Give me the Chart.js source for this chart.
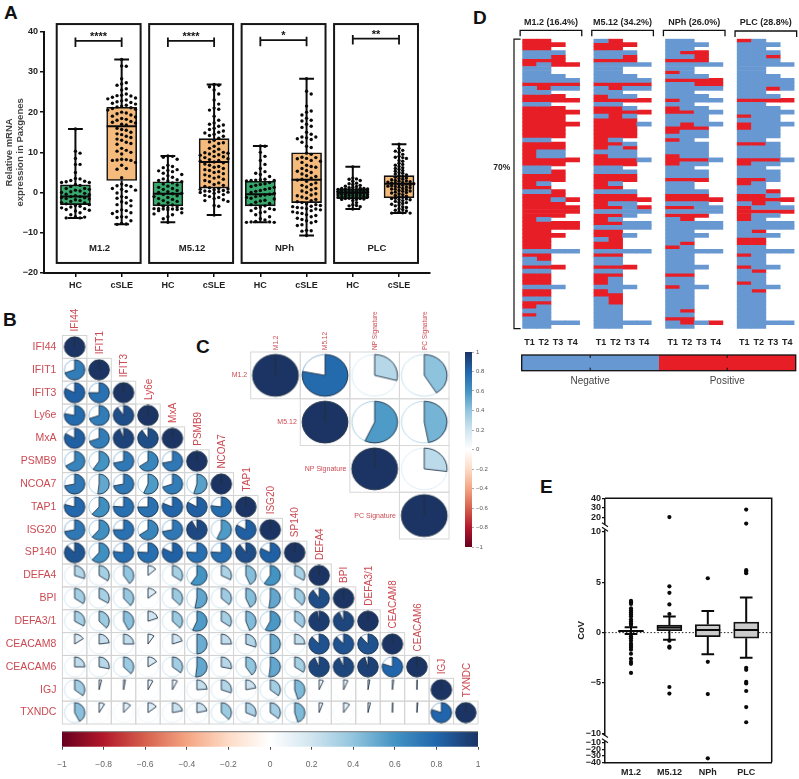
<!DOCTYPE html>
<html><head><meta charset="utf-8">
<style>html,body{margin:0;padding:0;background:#fff;width:799px;height:779px;overflow:hidden}
canvas{position:absolute}
.letter{position:absolute;font:bold 19px/19px 'Liberation Sans',Arial,sans-serif;color:#111}</style>
<script src="https://cdn.jsdelivr.net/npm/chart.js@4"></script>
</head><body>
<div class="letter" style="left:4px;top:3px">A</div>
<div class="letter" style="left:3px;top:310px">B</div>
<div class="letter" style="left:196px;top:337px">C</div>
<div class="letter" style="left:473px;top:8px">D</div>
<div class="letter" style="left:540px;top:477px">E</div>
<script>
// ---------- Panel A data ----------
const aGroups = ['HC','cSLE','HC','cSLE','HC','cSLE','HC','cSLE'];
const aModules = ['M1.2','M5.12','NPh','PLC'];
const aStars = ['****','****','*','**'];
const aQ1  = [-3.0, 3.0,-3.3, 1.1,-3.3,-2.5,-1.5,-1.3];
const aMed = [-1.0,16.5,-0.3, 7.6,-0.4, 3.2, 0.0, 2.2];
const aQ3  = [ 1.9,21.2, 2.7,13.4, 2.8, 9.9, 0.9, 4.2];
const aLo  = [-6.3,-7.9,-7.4,-5.6,-7.4,-10.7,-4.1,-5.1];
const aHi  = [15.8,33.1, 9.1,26.9,11.6,28.3, 6.4,12.0];
const m12Hc = [15.8,10.3,9.8,8.5,7,7,5,3.5,3.4,3,2.8,2.7,2.5,2.5,2,1.8,1.5,1,1,.8,.6,.4,.2,0,-.2,-.4,-.5,-.8,-1,-1,-1.2,-1.3,-1.5,-1.6,-1.8,-2,-2.2,-2.5,-2.6,-2.8,-3,-3.2,-3.4,-3.6,-3.8,-4,-4.2,-4.4,-4.6,-5,-5.5,-6,-6.3,-6.3,-6.1];
const m12Sle = [33.1,31.5,31.4,28.3,27.3,27,26.7,25.8,25.5,24.5,24.2,24.1,24,23.7,23.5,23.3,23,22.8,22.6,22.4,22.2,22,21.7,21.5,21.3,21.1,20.9,20.7,20.5,20,19.8,19.6,19.3,19,18.8,18.4,18.2,18,17.7,17.5,17.3,17,16.8,16,15.7,15.5,15,14.6,14.4,14,13.7,13.3,13,12.5,12.2,12,11,10.5,10.3,10,9.6,8.3,8.2,8.1,8,8,7.5,6.8,6,5.8,3.7,2.1,1.8,1.7,1.5,1,.8,.6,.3,-.1,-1,-1.2,-1.4,-2,-2.3,-2.6,-3,-3.3,-4.3,-4.5,-4.7,-5,-5.2,-6,-6.1,-6.2,-7,-7.6,-7.8,-7.9];
const m512Hc = [9.1,9,8.8,8.3,6.8,6.5,6.2,5.7,5.5,5.4,5.2,4.8,4.5,4.2,3.8,3.4,3.2,3,2.9,2.7,2.4,2.1,1.9,1.6,1.3,1,.8,.5,.2,0,-.2,-.3,-.5,-.8,-1,-1.2,-1.5,-1.7,-2,-2.2,-2.5,-2.8,-3.1,-3.4,-3.6,-3.8,-4,-4,-4,-4.1,-4.1,-4.2,-4.3,-4.5,-5,-5.3,-5.5,-6,-6.5,-7.4];
const m512Sle = [26.9,26.7,26.3,25.5,24.5,23,22,21,20.7,20.5,19,18,17.3,17,16.8,16.5,16,15.7,15.3,15,14.8,14.5,14.2,14,13.5,13,12.6,12.4,12.2,11.5,11,10.8,10.2,10,9.9,9.8,9.6,9.4,9.3,9,8.9,8.7,8.4,8.2,8,7.8,7.6,7.4,7.1,6.8,6.5,6.3,6,5.7,5.5,5.2,5,4.7,4.4,4.1,3.9,3.6,3.3,3,2.7,2.4,2,1.8,1.5,1.2,1,.9,.8,.7,.5,.4,.3,.2,.1,0,-.2,-.5,-.7,-1,-1.2,-1.5,-1.8,-2,-2.2,-3.2,-3.4,-5.6];
const nphHc = [11.6,11.5,10,9,8,7,6,5.2,4.8,4.5,4,3.3,3.2,3.1,3,3,2.9,2.5,2.2,2,1.8,1.5,1.3,1,.8,.5,.3,0,-.2,-.4,-.6,-.8,-1,-1.2,-1.4,-1.6,-1.9,-2.1,-2.4,-2.7,-3,-3.3,-3.6,-3.9,-4,-4.2,-4.5,-4.8,-5,-5.5,-6,-6.5,-6.8,-7.2,-7.3,-7.4,-7.4,-7.3];
const nphSle = [28.3,25.2,24.5,21.5,20.3,20,19.3,18.5,18,17.8,17,16.5,16.2,15,14.5,13.8,13.8,13.6,13.4,13.2,12.5,11.5,11.2,9.8,9.5,8.8,8.7,8.5,8.4,8,7.8,7.5,6.8,6.5,6.3,6,5.5,5.3,5,4.6,4.2,4,3.6,3.3,3.1,2.8,2.4,2,1.8,1.4,1,.7,.4,0,-.3,-.6,-.8,-1.1,-1.4,-1.7,-2,-2.3,-2.5,-2.8,-3,-3.2,-3.4,-3.5,-3.7,-3.8,-4,-4.1,-4.3,-4.5,-4.8,-5,-5.2,-5.5,-5.7,-6,-6.4,-6.7,-7,-7.2,-7.5,-8,-8.2,-9.4,-9.5,-9.6,-10.7];
const plcHc = [6.4,3.6,3.4,3.3,3,2.8,2.3,2.2,2,1.8,1.6,1.5,1.3,1.2,1.1,1,1,.9,.9,.8,.8,.7,.7,.6,.5,.5,.4,.4,.3,.3,.2,.2,.1,.1,0,0,0,-.1,-.1,-.2,-.2,-.3,-.3,-.4,-.4,-.5,-.5,-.6,-.7,-.7,-.8,-.9,-.9,-1,-1,-1.1,-1.2,-1.3,-1.4,-1.5,-1.5,-1.6,-1.7,-1.7,-2,-2.5,-3,-3.2,-3.3,-3.5,-4.1];
const plcSle = [12,11,10.5,10.3,10,9.5,9,8.8,8.7,8.5,8,7.8,7.3,7,6.8,6.5,6.2,6,5.8,5.5,5.3,5,4.8,4.6,4.4,4.2,4,3.8,3.6,3.5,3.3,3.2,3,2.9,2.8,2.7,2.6,2.5,2.4,2.3,2.2,2.1,2,1.9,1.8,1.7,1.6,1.5,1.4,1.3,1.2,1,.9,.8,.7,.5,.4,.3,.1,0,-.1,-.3,-.5,-.7,-.9,-1,-1.2,-1.4,-1.5,-1.6,-1.7,-1.8,-2,-2.2,-2.4,-2.5,-2.7,-2.9,-3.1,-3.3,-3.5,-3.7,-4,-4.2,-4.4,-4.6,-4.8,-5,-5.1,-5.1];
const aPoints = [m12Hc,m12Sle,m512Hc,m512Sle,nphHc,nphSle,plcHc,plcSle];

// ---------- Panel B data ----------
const bGenes = ['IFI44','IFIT1','IFIT3','Ly6e','MxA','PSMB9','NCOA7','TAP1','ISG20','SP140','DEFA4','BPI','DEFA3/1','CEACAM8','CEACAM6','IGJ','TXNDC'];
const bIFI44   = [1];
const bIFIT1   = [.7,1];
const bIFIT3   = [.82,.75,1];
const bLy6e    = [.78,.7,.9,1];
const bMxA     = [.83,.7,.94,.9,1];
const bPSMB9   = [.67,.6,.72,.66,.72,1];
const bNCOA7   = [.72,.52,.72,.57,.7,.55,1];
const bTAP1    = [.79,.62,.76,.75,.81,.83,.77,1];
const bISG20   = [.72,.62,.75,.66,.72,.92,.57,.83,1];
const bSP140   = [.87,.62,.77,.76,.82,.76,.76,.9,.82,1];
const bDEFA4   = [.3,.34,.4,.14,.34,.6,.32,.43,.6,.33,1];
const bBPI     = [.34,.33,.38,.15,.37,.53,.36,.43,.52,.37,.9,1];
const bDEFA31  = [.33,.37,.42,.2,.37,.57,.34,.44,.58,.36,.97,.93,1];
const bCEACAM8 = [.16,.23,.25,.1,.2,.5,.25,.3,.5,.25,.88,.88,.88,1];
const bCEACAM6 = [.25,.28,.37,.16,.35,.52,.28,.4,.52,.34,.93,.93,.95,.8,1];
const bIGJ     = [.35,.04,.03,.08,.08,.24,.3,.22,.35,.45,.07,.07,.03,.02,.005,1];
const bTXNDC   = [.42,.09,.12,.15,.22,.22,.37,.31,.35,.45,.06,.1,.04,.01,.015,.8,1];
const bRows = [bIFI44,bIFIT1,bIFIT3,bLy6e,bMxA,bPSMB9,bNCOA7,bTAP1,bISG20,bSP140,bDEFA4,bBPI,bDEFA31,bCEACAM8,bCEACAM6,bIGJ,bTXNDC];

// ---------- Panel C data ----------
const cLabelsTop = ['M1.2','M5.12','NP Signature','PC Signature'];
const cM12 = [1,.78,.29,.41];
const cM512 = [1,.57,.47];
const cNP = [1,.27];
const cPC = [1];
const cRows = [cM12,cM512,cNP,cPC];
const barTicks = [-1,-.8,-.6,-.4,-.2,0,.2,.4,.6,.8,1];

// ---------- Panel D data (R positive, B negative, - no sample) ----------
const dTitles = ['M1.2 (16.4%)','M5.12 (34.2%)','NPh (26.0%)','PLC (28.8%)'];
const dTimes = ['T1','T2','T3','T4'];
const dLegend = ['Negative','Positive'];
const dM12 = ['RR--','RRR-','RR--','BBB-','BBR-','RRR-','RBRR','BB--','BB--','BBB-','BBBB','RRRR','BRBB','BB--','RRR-','RRRR','BB--','RRR-','RRRR','RRR-','RRR-','RRRR','RRR-','RRR-','RRR-','BB--','RRR-','RRR-','RBB-','RBB-','RRRR','RRR-','BB--','BBR-','RRR-','RRR-','RB--','RR--','BBR-','RRR-','RRBR','RRR-','RRRR','RRRR','RRR-','RB--','RRRR','RRRR','RR--','RRR-','RR--','RR--','RR--','BBBB','RR--','BR--','BB--','RRR-','BB--','RR--','RR--','RR--','BBB-','RR--','RR--','BB--','RR--','RB--','BB--','RB--','BB--','BBBB','BB--'];
const dM512 = ['BR--','RRR-','RR--','BBB-','BBR-','RRR-','BBBB','BB--','BB--','BBB-','BBBB','RRRR','BRBB','BB--','RBB-','RRRR','BB--','RRB-','RRRR','BRB-','RRR-','RRRB','RRR-','RRR-','RRR-','RB--','RRB-','RBR-','BBB-','RBB-','RRRB','RRR-','BB--','BBB-','RRR-','RRR-','RB--','RR--','BBB-','RRR-','RRRR','RBB-','RRBR','BBBB','RRB-','RB--','RRBB','BBBB','RR--','RRB-','BR--','RR--','RR--','BBBB','RR--','BB--','BB--','RRR-','BB--','RR--','RB--','RB--','BBB-','RB--','RR--','BR--','BR--','BB--','BB--','BB--','BB--','BBBB','BB--'];
const dNPh = ['BB--','BBB-','BB--','BRR-','BBR-','RRR-','BBBB','BB--','RB--','BBB-','RRRR','BBRR','BBBB','BB--','BBB-','RBBB','BB--','RBB-','RRBB','BBB-','BBB-','BRBB','RRR-','RBB-','BBB-','RB--','BBB-','BBB-','BBB-','RBB-','RRRB','RBB-','BB--','BBB-','BBB-','RRR-','BB--','BB--','BBB-','RRR-','RRRR','BBB-','RRBB','BBBB','RRR-','BR--','BBBB','BBBB','BB--','BBB-','BB--','BR--','RB--','BBBB','BB--','BB--','BB--','BBB-','BB--','RR--','BB--','BB--','RBB-','BB--','BB--','BB--','BB--','BB--','BR--','BB--','RR--','BRBR','BB--'];
const dPLC = ['RB--','BBB-','BB--','BBB-','BBR-','BBB-','BBBB','BB--','BB--','BBB-','BBBB','BBBB','BBRB','BB--','BBB-','RRRR','BB--','BBB-','BBBB','RBB-','BBB-','RBBB','RBB-','BBB-','BBB-','BB--','RRB-','BBB-','BBB-','BBB-','RRRB','RBB-','BB--','BBB-','BBB-','RRB-','RB--','BB--','BBR-','RRB-','RRRR','BRB-','RBBB','RRRR','RBB-','RB--','BBBB','BBBB','BR--','BBB-','RR--','RR--','BB--','BBBB','RB--','BB--','BB--','RBB-','BR--','BB--','BB--','RB--','BBB-','BR--','BB--','BB--','BB--','BB--','BB--','BB--','BB--','BBBB','BB--'];
const dBlocks = [dM12,dM512,dNPh,dPLC];

// ---------- Panel E data ----------
const eGroups = ['M1.2','M5.12','NPh','PLC'];
const eQ1  = [0.06,0.2,-0.4,-0.55];
const eMed = [0.15,0.5,0.25,0.25];
const eQ3  = [0.2,0.75,0.8,1.05];
const eLo  = [-0.13,-0.7,-2.15,-2.5];
const eHi  = [0.53,1.6,2.15,3.5];
const eOutM12 = [3.15,3,2.85,2.4,2.2,2,1.8,1.6,1.3,1.1,.9,.75,-.35,-.55,-.8,-1.1,-1.3,-1.5,-1.7,-2.1,-2.6,-2.9,-3.1,-4];
const eOutM512 = [20.6,4.6,3.95,2.8,1.85,-.8,-1.4,-1.5,-5.4,-6.05];
const eOutNPh = [5.4,-2.9,-6.1,-34];
const eOutPLC = [28.3,13.8,6.2,6.05,5.9,-3.5,-3.7,-4.9,-5.05,-5.8,-7.4,-8.9];
const eOutliers = [eOutM12,eOutM512,eOutNPh,eOutPLC];
const eTickValues = [40,30,20,10,5,0,-5,-10,-10,-20,-30,-40];
const eTickBranch = ['top','top','top','mid','mid','mid','mid','mid','low','low','low','low'];

// ---------- helpers ----------
const FF = "'Liberation Sans',Arial,sans-serif";
const RED_TXT = '#cc4a52';
const rampStops = [[-1,'#67001f'],[-.8,'#b2182b'],[-.6,'#d6604d'],[-.4,'#f4a582'],[-.2,'#fddbc7'],[0,'#ffffff'],[.2,'#d1e5f0'],[.4,'#92c5de'],[.6,'#4393c3'],[.8,'#2166ac'],[1,'#1b3464']];
const hex = h=>[1,3,5].map(i=>parseInt(h.substr(i,2),16));
function rampColor(v){
  for(let i=0;i<rampStops.length-1;i++){
    const [a,ca]=rampStops[i],[b,cb]=rampStops[i+1];
    if(v<=b){const t=(v-a)/(b-a),A=hex(ca),B=hex(cb);
      return 'rgb('+A.map((q,k)=>Math.round(q+(B[k]-q)*t)).join(',')+')';}
  }
  return rampStops[rampStops.length-1][1];
}
function makeCanvas(r){
  const c=document.createElement('canvas');c.width=r.w;c.height=r.h;
  c.style.left=r.x+'px';c.style.top=r.y+'px';c.style.width=r.w+'px';c.style.height=r.h+'px';
  document.body.appendChild(c);return c.getContext('2d');
}
function pad(r,p,W,H,rightW){return {left:p.l-r.x-W,top:p.t-r.y,right:r.x+r.w-p.r-(rightW||0),bottom:r.y+r.h-p.b-H};}
function fix(size){return s=>{if(s.isHorizontal())s.height=size;else s.width=size;s.paddingLeft=s.paddingRight=s.paddingTop=s.paddingBottom=0;};}
function setTicks(vals){return s=>{s.ticks=vals.map(v=>({value:v}));};}
function text(ctx,str,x,y,font,color,align,rot){
  ctx.save();ctx.font=font;ctx.fillStyle=color;ctx.textAlign=align||'center';ctx.textBaseline='middle';
  ctx.translate(x,y);if(rot)ctx.rotate(rot);ctx.fillText(str,0,0);ctx.restore();
}
function poly(ctx,pts,color,w){
  ctx.save();ctx.strokeStyle=color;ctx.lineWidth=w;ctx.lineCap='butt';ctx.lineJoin='miter';ctx.setLineDash([]);ctx.beginPath();
  pts.forEach((p,i)=>i?ctx.lineTo(p[0],p[1]):ctx.moveTo(p[0],p[1]));ctx.stroke();ctx.restore();
}
const base=(layoutPad)=>({responsive:false,animation:false,events:[],layout:{padding:layoutPad},plugins:{legend:{display:false},tooltip:{enabled:false}}});
const gap={x:NaN,y:NaN};
function swarm(vals,cx,step,maxCol,dy){
  const sorted=[...vals].sort((a,b)=>b-a),last={},out=[];
  const order=[0];for(let i=1;i<=maxCol;i++)order.push(i,-i);
  sorted.forEach(v=>{
    let pick=null,best=-1;
    for(const c of order){
      const d=last[c]===undefined?1e9:last[c]-v;
      if(d>=dy){pick=c;break;}
      if(d>best){best=d;pick=c;}
    }
    last[pick]=v;out.push({x:cx+pick*step,y:v});
  });
  return out;
}
function boxLines(lo,q1,q3,hi,cap,med,medW){
  const out=[];
  lo.forEach((l,i)=>{
    const h=hi[i];
    out.push({x:i,y:l},{x:i,y:q1[i]},gap,{x:i,y:q3[i]},{x:i,y:h},gap,{x:i-cap,y:h},{x:i+cap,y:h},gap,{x:i-cap,y:l},{x:i+cap,y:l},gap,{x:i-medW,y:med[i]},{x:i+medW,y:med[i]},gap);
  });
  return out;
}

// ---------- Panel A ----------
(function(){
  const r={x:0,y:20,w:440,h:280},p={l:44,t:31.7,r:430,b:273};
  const pts=[];aPoints.forEach((vals,i)=>{
    const dense=i>=6;
    pts.push(...swarm(vals,i,dense?.08:.1,dense?4:3,dense?.7:1.25));
  });
  new Chart(makeCanvas(r),{type:'bar',data:{datasets:[
    {type:'scatter',data:pts,backgroundColor:'#0a0a0a',borderWidth:0,pointRadius:1.7,order:1},
    {type:'scatter',showLine:true,data:boxLines(aLo,aQ1,aQ3,aHi,.16,aMed,.325),borderColor:'#0a0a0a',borderWidth:2,pointRadius:0,order:2,clip:false},
    {type:'bar',data:aQ1.map((q,i)=>({x:i,y:[q,aQ3[i]]})),backgroundColor:aQ1.map((q,i)=>i%2?'#f4bb7c':'#38a96d'),borderColor:'#111',borderWidth:1.6,barThickness:30,borderSkipped:false,order:3}
  ]},options:Object.assign(base(pad(r,p,44,27)),{scales:{
    x:{type:'linear',min:-0.68,max:7.67,offset:false,afterFit:fix(27),afterBuildTicks:setTicks(aGroups.map((g,i)=>i)),
       grid:{offset:false,drawOnChartArea:false,color:'#111',lineWidth:1.5,tickLength:4},border:{color:'#111',width:2},
       ticks:{autoSkip:false,maxRotation:0,padding:3,color:'#222',font:{family:FF,size:9,weight:'bold'},callback:(v,i)=>aGroups[i]}},
    y:{type:'linear',min:-20,max:40,afterFit:fix(44),
       grid:{drawOnChartArea:false,color:'#111',lineWidth:1.5,tickLength:4},border:{color:'#111',width:2},
       title:{display:true,text:['Relative mRNA','expression in Paxgenes'],color:'#444',padding:{top:4,bottom:0},font:{family:FF,size:9.5,weight:'bold',lineHeight:1.15}},
       ticks:{stepSize:10,padding:2,color:'#222',font:{family:FF,size:9,weight:'bold'},callback:v=>String(v).replace('-','\u2212')}}
  }}),plugins:[{id:'aOverlay',afterDatasetsDraw(ch){
    const c=ch.ctx,X=ch.scales.x,Y=ch.scales.y;
    const braceY=[37.7,37.7,37.9,38.3];
    aModules.forEach((m,k)=>{
      const i=k*2;
      const x0=X.getPixelForValue(i-.405),x1=X.getPixelForValue(i+1.41);
      const yt=Y.getPixelForValue(41.9),yb=Y.getPixelForValue(-17.5);
      c.save();c.strokeStyle='#161616';c.lineWidth=2;c.strokeRect(x0,yt,x1-x0,yb-yt);c.restore();
      const by=Y.getPixelForValue(braceY[k]),bl=X.getPixelForValue(i),br=X.getPixelForValue(i+1);
      poly(c,[[bl,by-3.5],[bl,by+6],[bl,by],[br,by],[br,by+6],[br,by-3.5]],'#111',1.8);
      text(c,aStars[k],(bl+br)/2,by-4,'bold 11px '+FF,'#111');
      text(c,m,(bl+br)/2+1,Y.getPixelForValue(-13.8),'bold 9.5px '+FF,'#222');
    });
  }}]});
})();

// ---------- Pie matrix helper ----------
function pieImage(v,w,h,rx,ry,lw){
  const cv=document.createElement('canvas');cv.width=w;cv.height=h;
  const g=cv.getContext('2d'),cx=w/2,cy=h/2,col=rampColor(v);
  g.beginPath();g.ellipse(cx,cy,rx,ry,0,0,Math.PI*2);g.strokeStyle=col;g.globalAlpha=.55;g.lineWidth=lw;g.stroke();g.globalAlpha=1;
  g.beginPath();g.moveTo(cx,cy);g.ellipse(cx,cy,rx,ry,0,-Math.PI/2,-Math.PI/2+Math.PI*2*v);g.closePath();
  g.fillStyle=col;g.fill();g.strokeStyle='#1f3145';g.lineWidth=lw;g.stroke();
  return cv;
}

// ---------- Panel B ----------
(function(){
  const r={x:0,y:300,w:500,h:440},p={l:62.4,t:335.5,r:478,b:724};
  const pts=[],imgs=[];
  bRows.forEach((row,ri)=>row.forEach((v,ci)=>{pts.push({x:ci+.5,y:ri+.5});imgs.push(pieImage(v,24,22,10.2,10,.9));}));
  new Chart(makeCanvas(r),{type:'scatter',data:{datasets:[{data:pts,pointStyle:imgs,pointRadius:10,clip:false}]},
    options:Object.assign(base(pad(r,p,62.4,0)),{scales:{
      x:{type:'linear',min:0,max:17,display:false},
      y:{type:'linear',min:0,max:17,reverse:true,afterFit:fix(62.4),afterBuildTicks:setTicks(bGenes.map((g,i)=>i+.5)),
         grid:{display:false,drawTicks:false},border:{display:false},
         ticks:{autoSkip:false,padding:6,color:RED_TXT,font:{family:FF,size:10.5},callback:(v,i)=>bGenes[i]}}
    }}),plugins:[{id:'bGrid',beforeDatasetsDraw(ch){
      const c=ch.ctx,X=ch.scales.x,Y=ch.scales.y;
      c.save();c.strokeStyle='#d4d4d4';c.lineWidth=1;
      bRows.forEach((row,ri)=>row.forEach((v,ci)=>{
        const a=X.getPixelForValue(ci),b=X.getPixelForValue(ci+1),t=Y.getPixelForValue(ri),d=Y.getPixelForValue(ri+1);
        c.strokeRect(a,t,b-a,d-t);}));
      c.restore();
    },afterDatasetsDraw(ch){
      const c=ch.ctx,X=ch.scales.x,Y=ch.scales.y;
      bGenes.forEach((g,i)=>text(c,g,X.getPixelForValue(i+.5)+1,Y.getPixelForValue(i)-4,'10px '+FF,RED_TXT,'left',-Math.PI/2));
    }}]});
})();

// ---------- Colour bar helper ----------
function gradFill(horizontal){
  return ctx=>{
    const a=ctx.chart.chartArea;if(!a)return '#888';
    const g=horizontal?ctx.chart.ctx.createLinearGradient(a.left,0,a.right,0):ctx.chart.ctx.createLinearGradient(0,a.bottom,0,a.top);
    rampStops.forEach(([v,col])=>g.addColorStop((v+1)/2,col));return g;
  };
}
const minusLabel=v=>String(v).replace('-','\u2212');

// B colour bar
(function(){
  const r={x:40,y:725,w:460,h:50},p={l:62,t:731.7,r:478,b:746.7};
  new Chart(makeCanvas(r),{type:'bar',data:{datasets:[{data:[{y:0,x:[-1,1]}],backgroundColor:gradFill(true),borderWidth:0,barThickness:15}]},
    options:Object.assign(base(pad(r,p,0,25)),{indexAxis:'y',scales:{
      x:{type:'linear',min:-1,max:1,afterFit:fix(25),afterBuildTicks:setTicks(barTicks),
         grid:{drawOnChartArea:false,color:'#444',lineWidth:1,tickLength:3},border:{display:false},
         ticks:{autoSkip:false,maxRotation:0,padding:10,color:'#666',font:{family:FF,size:8.5},callback:(v,i)=>minusLabel(barTicks[i])}},
      y:{type:'linear',min:-.5,max:.5,display:false,offset:false}
    }}),plugins:[{id:'bbEdge',afterDatasetsDraw(ch){const a=ch.chartArea;poly(ch.ctx,[[a.left,a.top],[a.right,a.top]],'#777',1);}}]});
})();

// ---------- Panel C ----------
(function(){
  const r={x:225,y:300,w:245,h:260},p={l:250.7,t:352,r:462.3,b:547};
  const pts=[],imgs=[];
  cRows.forEach((row,ri)=>row.forEach((v,k)=>{pts.push({x:ri+k+.5,y:ri+.5});imgs.push(pieImage(v,50,46,22.8,20.8,.9));}));
  new Chart(makeCanvas(r),{type:'scatter',data:{datasets:[{data:pts,pointStyle:imgs,pointRadius:20,clip:false}]},
    options:Object.assign(base(pad(r,p,0,0)),{scales:{
      x:{type:'linear',min:0,max:4,display:false},
      y:{type:'linear',min:0,max:4,reverse:true,display:false}
    }}),plugins:[{id:'cGrid',beforeDatasetsDraw(ch){
      const c=ch.ctx,X=ch.scales.x,Y=ch.scales.y;
      c.save();c.strokeStyle='#d8d8d8';c.lineWidth=1;
      cRows.forEach((row,ri)=>row.forEach((v,k)=>{
        const a=X.getPixelForValue(ri+k),b=X.getPixelForValue(ri+k+1),t=Y.getPixelForValue(ri),d=Y.getPixelForValue(ri+1);
        c.strokeRect(a,t,b-a,d-t);}));
      c.restore();
    },afterDatasetsDraw(ch){
      const c=ch.ctx,X=ch.scales.x,Y=ch.scales.y;
      cLabelsTop.forEach((g,i)=>{
        text(c,g,X.getPixelForValue(i+.5)+.5,Y.getPixelForValue(0)-2,'6.5px '+FF,RED_TXT,'left',-Math.PI/2);
        text(c,g,X.getPixelForValue(i)-3.5,Y.getPixelForValue(i+.5),'7px '+FF,RED_TXT,'right');
      });
    }}]});
})();
// C colour bar
(function(){
  const r={x:460,y:340,w:40,h:220},p={l:465,t:352,r:472,b:547};
  new Chart(makeCanvas(r),{type:'bar',data:{datasets:[{data:[{x:0,y:[-1,1]}],backgroundColor:gradFill(false),borderWidth:0,barThickness:7}]},
    options:Object.assign(base(pad(r,p,0,0,28)),{scales:{
      x:{type:'linear',min:-.5,max:.5,display:false,offset:false},
      y:{type:'linear',position:'right',min:-1,max:1,afterFit:fix(28),afterBuildTicks:setTicks(barTicks),
         grid:{drawOnChartArea:false,color:'#888',lineWidth:.7,tickLength:2},border:{display:false},
         ticks:{autoSkip:false,padding:2,color:'#555',font:{family:FF,size:6},callback:(v,i)=>minusLabel(barTicks[i])}}
    }})});
})();

// ---------- Panel D ----------
(function(){
  const r={x:490,y:0,w:309,h:350},p={l:522.3,t:38.7,r:794.5,b:328.7};
  const pos=[],neg=[];
  dBlocks.forEach((rows,b)=>rows.forEach((s,ri)=>[...s].forEach((ch,c)=>{
    if(ch==='-')return;
    (ch==='R'?pos:neg).push({y:ri,x:[5*b+c,5*b+c+1]});
  })));
  const tickVals=[];dBlocks.forEach((_,b)=>dTimes.forEach((t,c)=>tickVals.push(5*b+c+.5)));
  new Chart(makeCanvas(r),{type:'bar',data:{datasets:[
    {data:neg,backgroundColor:'#6898d1',borderWidth:0,barThickness:3.97,grouped:false,inflateAmount:.35},
    {data:pos,backgroundColor:'#e71e26',borderWidth:0,barThickness:3.97,grouped:false,inflateAmount:.35}
  ]},options:Object.assign(base(pad(r,p,0,21.3)),{indexAxis:'y',scales:{
    x:{type:'linear',min:0,max:19,afterFit:fix(21.3),afterBuildTicks:setTicks(tickVals),
       grid:{display:false,drawTicks:false},border:{display:false},
       ticks:{autoSkip:false,maxRotation:0,padding:8,color:'#222',font:{family:FF,size:9,weight:'bold'},callback:(v,i)=>dTimes[i%4]}},
    y:{type:'linear',min:-.5,max:72.5,reverse:true,display:false,offset:false}
  }}),plugins:[{id:'dOverlay',afterDatasetsDraw(ch){
    const c=ch.ctx,X=ch.scales.x,Y=ch.scales.y;
    dTitles.forEach((t,b)=>{
      const l=X.getPixelForValue(5*b-.15),rr=X.getPixelForValue(5*b+4.15);
      const yy=b===3?31:30.3;
      poly(c,[[l,yy+6],[l,yy],[rr,yy],[rr,yy+6]],'#111',1.3);
      text(c,t,(l+rr)/2,yy-8,'bold 9px '+FF,'#222');
    });
    const top=Y.getPixelForValue(-.5),bot=Y.getPixelForValue(72.5);
    const bx0=X.getPixelForValue(-.58),bx1=X.getPixelForValue(-.12);
    poly(c,[[bx1,top+.5],[bx0,top+.5],[bx0,bot],[bx1,bot]],'#111',1.2);
    text(c,'70%',X.getPixelForValue(-1.43),168,'bold 8.5px '+FF,'#222');
  }}]});
})();
// D legend
(function(){
  const r={x:510,y:345,w:289,h:45},p={l:521.7,t:355,r:795.7,b:370.7};
  new Chart(makeCanvas(r),{type:'bar',data:{datasets:[
    {data:[{y:0,x:[0,1]}],backgroundColor:'#6898d1',borderWidth:0,barThickness:16,grouped:false},
    {data:[{y:0,x:[1,2]}],backgroundColor:'#e71e26',borderWidth:0,barThickness:16,grouped:false}
  ]},options:Object.assign(base(pad(r,p,0,19)),{indexAxis:'y',scales:{
    x:{type:'linear',min:0,max:2,afterFit:fix(19),afterBuildTicks:setTicks([.5,1.5]),
       grid:{display:false,drawTicks:false},border:{display:false},
       ticks:{autoSkip:false,maxRotation:0,padding:5,color:'#444',font:{family:FF,size:10},callback:(v,i)=>dLegend[i]}},
    y:{type:'linear',min:-.5,max:.5,display:false,offset:false}
  }}),plugins:[{id:'dlEdge',afterDatasetsDraw(ch){
    const c=ch.ctx,a=ch.chartArea,X=ch.scales.x;
    c.save();c.strokeStyle='#111';c.lineWidth=1.3;c.strokeRect(a.left,a.top,a.right-a.left,a.bottom-a.top);c.restore();
    [.5,1.5].forEach(v=>{const x=X.getPixelForValue(v);
      poly(c,[[x,a.top],[x,a.top+3]],'#111',1);poly(c,[[x,a.bottom-3],[x,a.bottom]],'#111',1);});
  }}]});
})();

// ---------- Panel E (broken axis: three linear pieces placed on one scale) ----------
function eAxisTop(v){return 11.42+(v-20)*.096;}
function eAxisLow(v){return -10.93+(v+10)*.065;}
function eAxis(v){return v>10?eAxisTop(v):(v<-10?eAxisLow(v):v);}
(function(){
  const r={x:576,y:480,w:223,h:299},p={l:605,t:498.3,r:771.7,b:762.3};
  const tT=eTickValues.map((v,i)=>eTickBranch[i]==='top'?eAxisTop(v):eTickBranch[i]==='low'?eAxisLow(v):v);
  const outs=[];eOutliers.forEach((vals,i)=>vals.forEach(v=>outs.push({x:i,y:eAxis(v)})));
  new Chart(makeCanvas(r),{type:'bar',data:{datasets:[
    {type:'scatter',data:outs,backgroundColor:'#0a0a0a',borderWidth:0,pointRadius:2.1,order:1},
    {type:'scatter',showLine:true,data:boxLines(eLo,eQ1,eQ3,eHi,.165,eMed,.325),borderColor:'#0a0a0a',borderWidth:2,pointRadius:0,order:2},
    {type:'bar',data:eQ1.map((q,i)=>({x:i,y:[q,eQ3[i]]})),backgroundColor:'#cbcbcb',borderColor:'#111',borderWidth:1.8,barThickness:25,borderSkipped:false,order:3},
    {type:'scatter',showLine:true,data:[{x:-.68,y:0},{x:3.67,y:0}],borderColor:'#222',borderWidth:1,borderDash:[1.5,2],pointRadius:0,order:4}
  ]},options:Object.assign(base(pad(r,p,29,16.7)),{scales:{
    x:{type:'linear',min:-.677,max:3.664,offset:false,afterFit:fix(16.7),afterBuildTicks:setTicks(eGroups.map((g,i)=>i)),
       grid:{display:false,offset:false,drawTicks:true,drawOnChartArea:false,color:'#111',tickLength:0},border:{color:'#111',width:1.5},
       ticks:{autoSkip:false,maxRotation:0,padding:5,color:'#222',font:{family:FF,size:9,weight:'bold'},callback:(v,i)=>eGroups[i]}},
    y:{type:'linear',min:-12.88,max:13.34,afterFit:fix(29),afterBuildTicks:setTicks(tT),
       grid:{drawOnChartArea:false,color:'#111',lineWidth:1.3,tickLength:3},border:{color:'#111',width:1.5},
       title:{display:true,text:'CoV',color:'#222',padding:{top:0,bottom:0},font:{family:FF,size:9.5,weight:'bold'}},
       ticks:{autoSkip:false,padding:1,color:'#222',font:{family:FF,size:9,weight:'bold'},callback:(v,i)=>String(eTickValues[i]).replace('-','\u2212')}}
  }}),plugins:[{id:'eOverlay',afterDatasetsDraw(ch){
    const c=ch.ctx,a=ch.chartArea,Y=ch.scales.y;
    poly(c,[[a.left,a.top],[a.right,a.top],[a.right,a.bottom]],'#111',1.5);
    [[10.72,10.26],[-10.23,-10.73]].forEach(([u,l])=>{
      const yu=Y.getPixelForValue(u),yl=Y.getPixelForValue(l);
      c.save();c.fillStyle='#fff';c.fillRect(a.left-1.5,yu,3,yl-yu);c.restore();
      poly(c,[[a.left-3,yu-2],[a.left+3,yu+2]],'#111',1.2);
      poly(c,[[a.left-3,yl-2],[a.left+3,yl+2]],'#111',1.2);
    });
  }}]});
})();
</script>
</body></html>
